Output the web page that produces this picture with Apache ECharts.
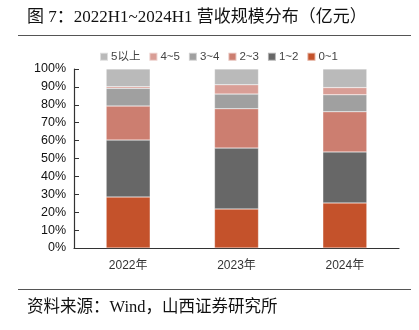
<!DOCTYPE html>
<html><head><meta charset="utf-8">
<script src="https://cdn.jsdelivr.net/npm/echarts@6/dist/echarts.min.js"></script>
<style>html,body{margin:0;padding:0;background:#fff}#c{width:419px;height:330px}</style>
</head><body><div id="c"></div>
<script>
var categories = ['2022年', '2023年', '2024年'];
var seriesNames = ['0~1', '1~2', '2~3', '3~4', '4~5', '5以上'];
var s0to1 = [28.5, 21.8, 25.2];
var s1to2 = [31.8, 34.0, 28.5];
var s2to3 = [19.0, 22.0, 22.4];
var s3to4 = [9.9, 8.2, 9.5];
var s4to5 = [0.9, 5.2, 4.0];
var s5up = [9.9, 8.8, 10.4];
var yTicks = ['0%','10%','20%','30%','40%','50%','60%','70%','80%','90%','100%'];
var colors = ['#C4522B', '#676767', '#CC7E70', '#A0A0A0', '#D99E96', '#BABABA'];
var values = [s0to1, s1to2, s2to3, s3to4, s4to5, s5up];

var chart = echarts.init(document.getElementById('c'), null, {renderer: 'canvas'});
var series = seriesNames.map(function (n, i) {
  return {
    name: n, type: 'bar', stack: 'total', barWidth: 44,
    data: values[i],
    itemStyle: {color: colors[i], borderColor: 'rgba(255,255,255,0.5)', borderWidth: 0.5}
  };
});
chart.setOption({
  animation: false,
  textStyle: {fontFamily: 'Liberation Sans, Arial, Noto Sans CJK SC'},
  legend: {
    data: seriesNames.slice().reverse(),
    top: 46, left: 94,
    itemWidth: 8, itemHeight: 8, itemGap: 8,
    icon: 'rect',
    textStyle: {fontSize: 11.5, color: '#444', padding: [0, 0, 0, -2]}
  },
  grid: {left: 74, right: 20, top: 69, bottom: 82},
  xAxis: {
    type: 'category', data: categories,
    axisLine: {lineStyle: {color: '#333', width: 1.2}},
    axisTick: {inside: true, length: 5, lineStyle: {color: '#333'}},
    axisLabel: {fontSize: 12, color: '#333', margin: 12}
  },
  yAxis: {
    type: 'value', min: 0, max: 100, interval: 10,
    axisLine: {show: true, lineStyle: {color: '#333', width: 1.2}},
    axisTick: {show: true, inside: true, length: 5, lineStyle: {color: '#333'}},
    splitLine: {show: false},
    axisLabel: {fontSize: 12.5, color: '#111', margin: 8,
      formatter: function (v) { return yTicks[Math.round(v / 10)]; }}
  },
  graphic: [
    {type: 'text', left: 27, top: 9, style: {text: '图 7：2022H1~2024H1 营收规模分布（亿元）',
      font: '17px "Liberation Serif", "Noto Sans CJK SC"', fill: '#111'}},
    {type: 'line', shape: {x1: 18, y1: 35.5, x2: 411, y2: 35.5}, style: {stroke: '#555', lineWidth: 1}},
    {type: 'line', shape: {x1: 18, y1: 289.5, x2: 411, y2: 289.5}, style: {stroke: '#555', lineWidth: 1}},
    {type: 'text', left: 27, top: 299, style: {text: '资料来源：Wind，山西证券研究所',
      font: '16.5px "Liberation Serif", "Noto Sans CJK SC"', fill: '#111'}}
  ],
  series: series
});
</script></body></html>
